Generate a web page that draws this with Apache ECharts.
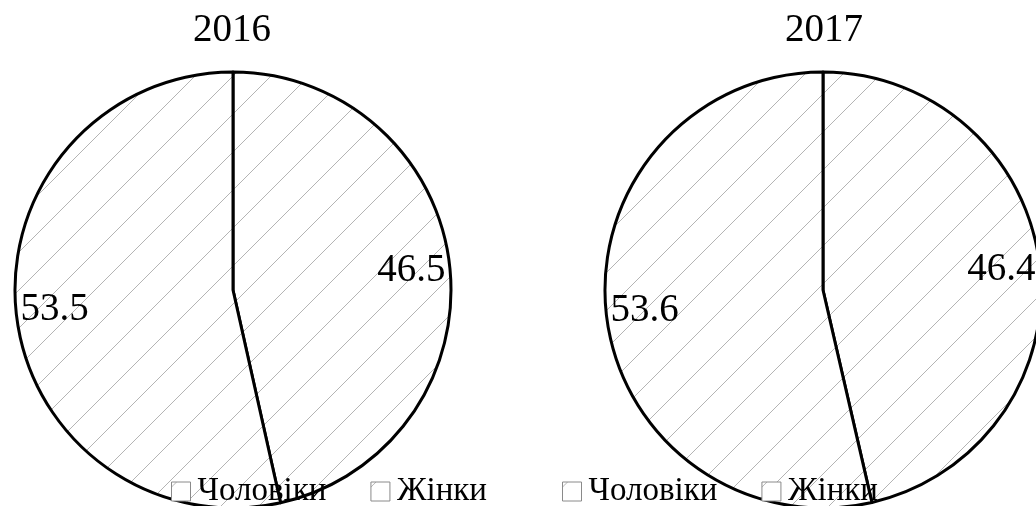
<!DOCTYPE html>
<html>
<head>
<meta charset="utf-8">
<script src="https://cdn.jsdelivr.net/npm/echarts@6/dist/echarts.min.js"></script>
<style>
  html, body { margin: 0; padding: 0; background: #fff; }
  #chart { width: 1036px; height: 506px; }
</style>
</head>
<body>
<div id="chart"></div>
<script>
// Gender split by year, percent
const years = ['2016', '2017'];
const categories = ['Чоловіки', 'Жінки'];
const values2016 = [46.5, 53.5];
const values2017 = [46.4, 53.6];

const FONT = '"Liberation Serif", "Times New Roman", serif';

// Diagonal hatch fill shared by every slice
function makeHatch() {
  const size = 38;
  const c = document.createElement('canvas');
  c.width = size; c.height = size;
  const ctx = c.getContext('2d');
  ctx.fillStyle = '#ffffff';
  ctx.fillRect(0, 0, size, size);
  ctx.strokeStyle = '#b4b4b4';
  ctx.lineWidth = 1;
  const offsets = [5, 5 + size];
  offsets.forEach(function (k) {
    ctx.beginPath();
    ctx.moveTo(-2, k + 2);
    ctx.lineTo(k + 2, -2);
    ctx.stroke();
  });
  return { image: c, repeat: 'repeat' };
}
const hatch = makeHatch();

const centers = [[233, 290], [823, 290]];
const titleX = [227, 819];
const R = 218;
const seriesValues = [values2016, values2017];

const series = [];
seriesValues.forEach(function (vals, i) {
  const data = categories.map(function (name, j) {
    return { name: name, value: vals[j] };
  });
  // slices
  series.push({
    type: 'pie',
    center: centers[i],
    radius: [0, R],
    startAngle: 90,
    clockwise: true,
    silent: true,
    animation: false,
    label: { show: false },
    labelLine: { show: false },
    itemStyle: { color: hatch, borderColor: '#000', borderWidth: 3 },
    emphasis: { disabled: true },
    data: data
  });
  // value labels on a transparent ring so they sit near the rim
  series.push({
    type: 'pie',
    center: centers[i],
    radius: [R * 0.62, R],
    startAngle: 90,
    clockwise: true,
    silent: true,
    animation: false,
    legendHoverLink: false,
    itemStyle: { color: 'rgba(0,0,0,0)', borderWidth: 0 },
    label: {
      show: true,
      position: 'inside',
      formatter: function (p) { return p.value.toFixed(1); },
      fontFamily: FONT,
      fontSize: 39,
      color: '#000'
    },
    labelLine: { show: false },
    emphasis: { disabled: true },
    data: data
  });
});

const legendLefts = [166, 557];

const option = {
  backgroundColor: '#ffffff',
  animation: false,
  title: years.map(function (y, i) {
    return {
      text: y,
      left: titleX[i],
      top: 6,
      textAlign: 'center',
      textStyle: { fontFamily: FONT, fontSize: 39, fontWeight: 'normal', color: '#000' }
    };
  }),
  legend: legendLefts.map(function (x) {
    return {
      data: categories,
      left: x,
      top: 470,
      orient: 'horizontal',
      icon: 'rect',
      itemWidth: 19,
      itemHeight: 19,
      itemGap: 44,
      selectedMode: false,
      itemStyle: { borderColor: '#8a8a8a', borderWidth: 1 },
      textStyle: { fontFamily: FONT, fontSize: 33, color: '#000', padding: [0, 0, 0, 2] }
    };
  }),
  series: series
};

const chart = echarts.init(document.getElementById('chart'), null, { renderer: 'canvas' });
chart.setOption(option);
</script>
</body>
</html>
